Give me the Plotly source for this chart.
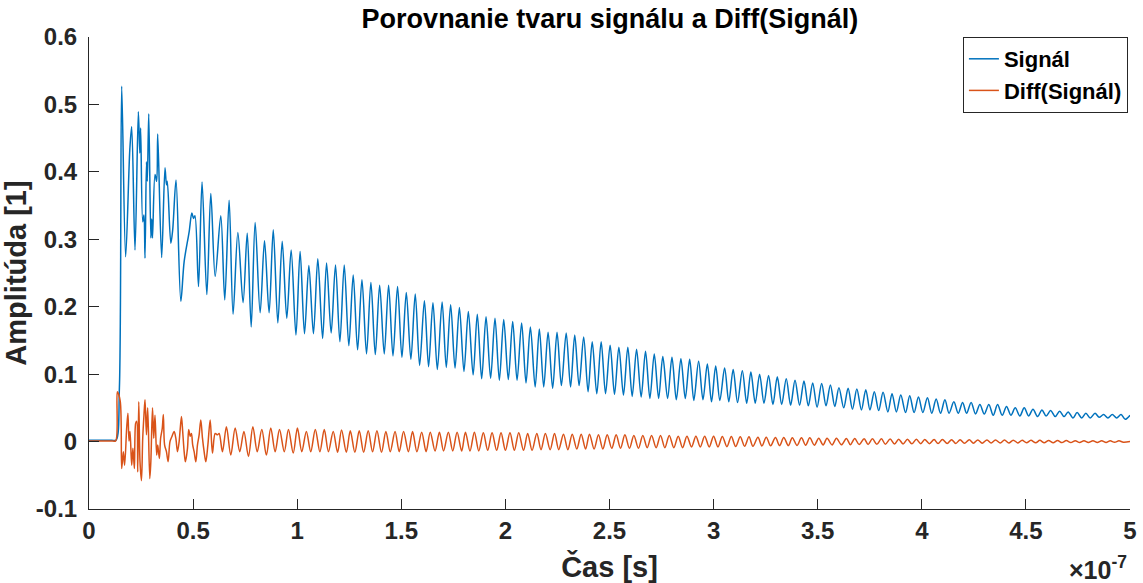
import plotly.graph_objects as go

# Time axis values are stored in units of 1e-7 s (the axis shows a x10^-7 multiplier)
signal_t = [
    0.000, 0.040, 0.080, 0.110, 0.130, 0.146, 0.157, 0.176, 0.196, 0.205, 0.221, 0.237, 0.244, 0.248,
    0.258, 0.264, 0.269, 0.276, 0.280, 0.287, 0.297, 0.301, 0.305, 0.317, 0.325,
    0.330, 0.349, 0.365, 0.372, 0.376, 0.393, 0.402, 0.418, 0.441, 0.457, 0.481,
    0.494, 0.502, 0.509, 0.526, 0.543, 0.566, 0.585,
    0.606, 0.633, 0.652, 0.673, 0.692, 0.715, 0.740, 0.760, 0.779, 0.798, 0.822,
    0.843, 0.865, 0.885, 0.907, 0.928, 0.950, 0.971, 0.994, 1.014, 1.035, 1.056,
    1.078, 1.099, 1.122, 1.141, 1.163, 1.184,
    1.205, 1.226, 1.248, 1.269, 1.290, 1.311, 1.333, 1.354, 1.375, 1.396, 1.418,
    1.439, 1.460, 1.482, 1.503, 1.524, 1.546, 1.567, 1.588, 1.611, 1.631, 1.652,
    1.673, 1.696, 1.716, 1.737, 1.758, 1.779, 1.801,
    1.822, 1.845, 1.865, 1.886, 1.907, 1.929, 1.950, 1.971, 1.992, 2.014, 2.035,
    2.056, 2.078, 2.099, 2.120, 2.143, 2.163, 2.184, 2.205, 2.227, 2.248, 2.269,
    2.292, 2.313, 2.333, 2.354, 2.376, 2.397,
    2.417, 2.439, 2.460, 2.481, 2.503, 2.524, 2.545, 2.567, 2.588, 2.609, 2.630,
    2.652, 2.673, 2.694, 2.715, 2.736, 2.756, 2.779, 2.800, 2.821, 2.843, 2.864,
    2.885, 2.905, 2.928, 2.949, 2.970, 2.990,
    3.010, 3.030, 3.053, 3.073, 3.094, 3.115, 3.138, 3.159, 3.179, 3.200, 3.221,
    3.242, 3.264, 3.285, 3.306, 3.327, 3.349, 3.370, 3.391, 3.413, 3.434, 3.455,
    3.476, 3.497, 3.519, 3.540, 3.561, 3.582, 3.602,
    3.625, 3.646, 3.667, 3.688, 3.710, 3.731, 3.751, 3.772, 3.793, 3.814, 3.837,
    3.857, 3.878, 3.899, 3.922, 3.942, 3.963, 3.984, 4.005, 4.027, 4.048, 4.069,
    4.090, 4.111, 4.131, 4.154, 4.175, 4.196,
    4.215, 4.237, 4.258, 4.279, 4.300, 4.322, 4.343, 4.364, 4.386, 4.407, 4.428,
    4.449, 4.471, 4.492, 4.513, 4.534, 4.556, 4.577, 4.597, 4.619, 4.641, 4.662,
    4.683, 4.703, 4.726, 4.746, 4.768, 4.788, 4.809, 4.832, 4.852, 4.873, 4.894,
    4.915, 4.936, 4.957, 4.977, 5.000,
]
signal_v = [
    0.002, 0.002, 0.002, 0.002, 0.002, 0.080, 0.527, 0.274, 0.433, 0.467, 0.284, 0.489, 0.428, 0.465,
    0.326, 0.336, 0.272, 0.415, 0.386, 0.486, 0.302, 0.330, 0.302, 0.396, 0.386,
    0.456, 0.273, 0.406, 0.381, 0.386, 0.294, 0.314, 0.388, 0.208, 0.267, 0.311,
    0.339, 0.331, 0.335, 0.230, 0.385, 0.218, 0.368,
    0.245, 0.335, 0.210, 0.358, 0.189, 0.310, 0.206, 0.309, 0.170, 0.325, 0.191,
    0.298, 0.191, 0.314, 0.176, 0.297, 0.183, 0.284, 0.158, 0.282, 0.160, 0.261,
    0.160, 0.271, 0.153, 0.265, 0.161, 0.262,
    0.148, 0.262, 0.142, 0.247, 0.136, 0.240, 0.130, 0.236, 0.129, 0.232, 0.130,
    0.232, 0.127, 0.230, 0.125, 0.221, 0.122, 0.219, 0.113, 0.209, 0.111, 0.206,
    0.107, 0.207, 0.110, 0.203, 0.109, 0.199, 0.104,
    0.193, 0.099, 0.189, 0.093, 0.185, 0.094, 0.183, 0.091, 0.181, 0.092, 0.178,
    0.091, 0.176, 0.087, 0.170, 0.081, 0.167, 0.081, 0.162, 0.079, 0.162, 0.083,
    0.161, 0.081, 0.158, 0.083, 0.155, 0.074,
    0.148, 0.071, 0.148, 0.071, 0.143, 0.070, 0.140, 0.069, 0.140, 0.067, 0.137,
    0.066, 0.134, 0.064, 0.130, 0.064, 0.126, 0.064, 0.125, 0.062, 0.123, 0.064,
    0.122, 0.061, 0.119, 0.062, 0.115, 0.059,
    0.112, 0.061, 0.109, 0.059, 0.107, 0.058, 0.105, 0.057, 0.103, 0.057, 0.100,
    0.057, 0.098, 0.055, 0.096, 0.055, 0.093, 0.054, 0.091, 0.054, 0.090, 0.053,
    0.087, 0.051, 0.086, 0.053, 0.084, 0.052, 0.080,
    0.050, 0.079, 0.048, 0.078, 0.047, 0.077, 0.047, 0.074, 0.046, 0.073, 0.044,
    0.071, 0.044, 0.069, 0.043, 0.068, 0.043, 0.066, 0.043, 0.065, 0.042, 0.063,
    0.042, 0.062, 0.042, 0.059, 0.042, 0.058,
    0.042, 0.058, 0.041, 0.055, 0.041, 0.055, 0.039, 0.055, 0.039, 0.052, 0.039,
    0.050, 0.038, 0.050, 0.038, 0.048, 0.037, 0.047, 0.038, 0.046, 0.037, 0.045,
    0.037, 0.044, 0.035, 0.043, 0.035, 0.042, 0.035, 0.042, 0.036, 0.040, 0.035,
    0.040, 0.035, 0.040, 0.033, 0.039,
]

diff_t = [
    0.000, 0.040, 0.080, 0.110, 0.128, 0.136, 0.150, 0.157, 0.165, 0.171, 0.181, 0.187, 0.192, 0.197,
    0.205, 0.211, 0.218, 0.224, 0.229, 0.234, 0.239, 0.245, 0.252, 0.258, 0.264,
    0.269, 0.276, 0.282, 0.292, 0.297, 0.305, 0.311, 0.317, 0.325, 0.330, 0.338,
    0.344, 0.352, 0.357, 0.363, 0.372, 0.380, 0.389, 0.399, 0.409, 0.417, 0.425,
    0.433, 0.444, 0.450, 0.457, 0.463, 0.473, 0.479, 0.486, 0.492, 0.498, 0.505,
    0.513, 0.521, 0.529, 0.537, 0.545, 0.553, 0.561, 0.571, 0.582, 0.593, 0.606,
    0.617, 0.625, 0.641, 0.660, 0.681, 0.702, 0.724, 0.744, 0.766, 0.787, 0.808,
    0.830, 0.852, 0.873, 0.894, 0.915, 0.938, 0.958, 0.981, 1.001, 1.022, 1.044,
    1.065, 1.087, 1.109, 1.130, 1.150, 1.173, 1.194,
    1.213, 1.236, 1.255, 1.277, 1.298, 1.319, 1.341, 1.362, 1.383, 1.405, 1.426,
    1.447, 1.470, 1.490, 1.511, 1.534, 1.554, 1.575, 1.598, 1.619, 1.639, 1.662,
    1.683, 1.703, 1.726, 1.747, 1.768, 1.790,
    1.808, 1.830, 1.851, 1.872, 1.894, 1.915, 1.936, 1.958, 1.979, 2.000, 2.022,
    2.043, 2.064, 2.087, 2.107, 2.128, 2.151, 2.171, 2.192, 2.215, 2.236, 2.256,
    2.279, 2.300, 2.321, 2.343, 2.364, 2.385,
    2.404, 2.426, 2.447, 2.468, 2.489, 2.511, 2.532, 2.553, 2.574, 2.596, 2.617,
    2.639, 2.660, 2.681, 2.702, 2.724, 2.745, 2.766, 2.787, 2.809, 2.830, 2.851,
    2.872, 2.894, 2.915, 2.936, 2.957, 2.979,
    3.000, 3.021, 3.042, 3.064, 3.085, 3.106, 3.128, 3.149, 3.170, 3.189, 3.213,
    3.232, 3.253, 3.274, 3.297, 3.317, 3.337, 3.359, 3.378, 3.401, 3.422, 3.442,
    3.462, 3.484, 3.505, 3.526, 3.545, 3.569, 3.590,
    3.614, 3.638, 3.657, 3.678, 3.699, 3.723, 3.742, 3.763, 3.784, 3.806, 3.825,
    3.848, 3.869, 3.889, 3.910, 3.931, 3.952, 3.974, 3.995, 4.014, 4.037, 4.059,
    4.078, 4.099, 4.122, 4.143, 4.163, 4.184, 4.205,
    4.228, 4.248, 4.269, 4.290, 4.313, 4.333, 4.354, 4.377, 4.397, 4.418, 4.439,
    4.462, 4.482, 4.503, 4.524, 4.547, 4.567, 4.588, 4.609, 4.631, 4.652, 4.673,
    4.694, 4.716, 4.737, 4.758, 4.779, 4.800, 4.822, 4.843, 4.864, 4.885, 4.905,
    4.926, 4.947, 4.968, 5.000,
]
diff_v = [
    0.001, 0.001, 0.001, 0.001, 0.001, 0.074, 0.060, -0.040, -0.015, -0.035, 0.020, 0.042, 0.001, 0.015,
    -0.035, -0.010, -0.040, 0.027, 0.030, -0.045, 0.059, -0.030, -0.058, 0.005, 0.039,
    0.062, 0.010, 0.050, -0.055, -0.030, 0.050, 0.005, 0.039, -0.020, -0.005, -0.025,
    0.005, 0.020, 0.040, -0.005, -0.015, -0.030, 0.000, 0.008, 0.015, 0.005, -0.015,
    0.000, 0.037, 0.015, -0.015, -0.030, -0.010, 0.018, 0.008, 0.012, -0.005, -0.015,
    -0.030, -0.005, 0.010, 0.032, 0.005, -0.015, -0.030, -0.005, 0.032, -0.017, 0.012,
    0.010, 0.012, -0.015, 0.022, -0.020, 0.020, -0.015, 0.015, -0.022, 0.022, -0.015,
    0.018, -0.020, 0.020, -0.015, 0.018, -0.015, 0.018, -0.017, 0.020, -0.015, 0.015,
    -0.015, 0.018, -0.015, 0.018, -0.015, 0.015, -0.016,
    0.017, -0.016, 0.016, -0.016, 0.016, -0.016, 0.016, -0.015, 0.016, -0.016, 0.015,
    -0.015, 0.015, -0.015, 0.015, -0.015, 0.015, -0.015, 0.014, -0.015, 0.014, -0.014,
    0.014, -0.014, 0.014, -0.014, 0.014, -0.014,
    0.014, -0.014, 0.014, -0.014, 0.013, -0.013, 0.013, -0.013, 0.013, -0.013, 0.013,
    -0.013, 0.013, -0.013, 0.012, -0.013, 0.012, -0.012, 0.012, -0.012, 0.012, -0.012,
    0.011, -0.012, 0.011, -0.011, 0.011, -0.011,
    0.011, -0.011, 0.010, -0.011, 0.010, -0.010, 0.010, -0.010, 0.010, -0.010, 0.009,
    -0.010, 0.009, -0.009, 0.009, -0.009, 0.009, -0.009, 0.009, -0.009, 0.008, -0.009,
    0.008, -0.008, 0.008, -0.008, 0.008, -0.008,
    0.008, -0.008, 0.0075, -0.0075, 0.0075, -0.0072, 0.007, -0.007, 0.007, -0.007, 0.0065,
    -0.0065, 0.0065, -0.0062, 0.006, -0.006, 0.006, -0.006, 0.0058, -0.0058, 0.0055, -0.0055,
    0.0055, -0.0053, 0.005, -0.005, 0.005, -0.005, 0.0048,
    -0.0048, 0.0046, -0.0046, 0.0045, -0.0044, 0.0043, -0.0042, 0.0041, -0.004, 0.004, -0.0039,
    0.0038, -0.0037, 0.0036, -0.0035, 0.0035, -0.0034, 0.0033, -0.0032, 0.0032, -0.0031, 0.003,
    -0.003, 0.003, -0.0029, 0.0028, -0.0028, 0.0027, -0.0026,
    0.0026, -0.0025, 0.0025, -0.0024, 0.0024, -0.0023, 0.0023, -0.0022, 0.0022, -0.0021, 0.0021,
    -0.002, 0.002, -0.0019, 0.0019, -0.0018, 0.0018, -0.0017, 0.0017, -0.0016, 0.0016, -0.0015,
    0.0015, -0.0014, 0.0014, -0.0014, 0.0013, -0.0013, 0.0013, -0.0012, 0.0012, -0.0012, 0.0011,
    -0.0011, 0.0011, -0.001, 0.000,
]

x_ticks = [0, 0.5, 1, 1.5, 2, 2.5, 3, 3.5, 4, 4.5, 5]
x_tick_labels = ["0", "0.5", "1", "1.5", "2", "2.5", "3", "3.5", "4", "4.5", "5"]
y_ticks = [-0.1, 0, 0.1, 0.2, 0.3, 0.4, 0.5, 0.6]
y_tick_labels = ["-0.1", "0", "0.1", "0.2", "0.3", "0.4", "0.5", "0.6"]

SCALE = 1e-7
AXIS_COLOR = "#262626"
FONT = "Liberation Sans, Arial, sans-serif"
TICK_SIZE = 24
LABEL_SIZE = 29

fig = go.Figure()
fig.add_trace(go.Scatter(
    x=[t * SCALE for t in signal_t], y=signal_v, name="Signál", mode="lines",
    line=dict(color="#0072BD", width=1.5, shape="spline", smoothing=0.9),
))
fig.add_trace(go.Scatter(
    x=[t * SCALE for t in diff_t], y=diff_v, name="Diff(Signál)", mode="lines",
    line=dict(color="#D95319", width=1.5, shape="spline", smoothing=0.9),
))

fig.update_layout(
    width=1143, height=583,
    margin=dict(l=89, r=13, t=37, b=74, autoexpand=False),
    plot_bgcolor="white", paper_bgcolor="white",
    font=dict(family=FONT, size=TICK_SIZE, color=AXIS_COLOR, weight="bold"),
    title=dict(
        text="Porovnanie tvaru signálu a Diff(Signál)",
        x=0.5336, xanchor="center", y=0.968, yanchor="middle",
        font=dict(family=FONT, size=27, color="black", weight="bold"),
    ),
    xaxis=dict(
        range=[0, 5 * SCALE], tickvals=[v * SCALE for v in x_ticks], ticktext=x_tick_labels,
        showline=True, linecolor=AXIS_COLOR, linewidth=1, mirror=False,
        ticks="inside", ticklen=10, tickcolor=AXIS_COLOR, showgrid=False, zeroline=False,
        automargin=False,
        tickfont=dict(family=FONT, size=TICK_SIZE, color=AXIS_COLOR, weight="bold"),
        title=dict(text="Čas [s]", standoff=14,
                   font=dict(family=FONT, size=LABEL_SIZE, color=AXIS_COLOR, weight="bold")),
    ),
    yaxis=dict(
        range=[-0.1, 0.6], tickvals=y_ticks, ticktext=y_tick_labels,
        showline=True, linecolor=AXIS_COLOR, linewidth=1, mirror=False,
        ticks="inside", ticklen=10, tickcolor=AXIS_COLOR, showgrid=False, zeroline=False,
        automargin=False, ticklabelstandoff=6,
        tickfont=dict(family=FONT, size=TICK_SIZE, color=AXIS_COLOR, weight="bold"),
        title=dict(text="Amplitúda [1]", standoff=4,
                   font=dict(family=FONT, size=LABEL_SIZE, color=AXIS_COLOR, weight="bold")),
    ),
    legend=dict(
        x=0.998, xanchor="right", y=1.0, yanchor="top",
        bgcolor="white", bordercolor=AXIS_COLOR, borderwidth=1,
        font=dict(family=FONT, size=22, color="black", weight="bold"),
        tracegroupgap=0, itemwidth=30,
    ),
    showlegend=True,
)

# Exponent multiplier for the time axis
fig.add_annotation(
    text="×10<sup>-7</sup>", xref="paper", yref="paper",
    x=0.999, y=-0.124, xanchor="right", yanchor="middle", showarrow=False,
    font=dict(family=FONT, size=25, color=AXIS_COLOR, weight="bold"),
)

fig.write_html("out.html")
